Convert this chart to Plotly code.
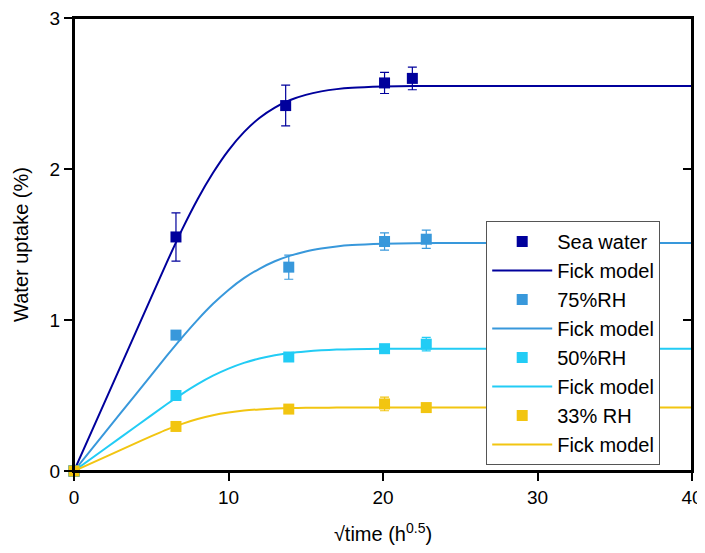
import plotly.graph_objects as go

# ---- measured data (x = sqrt(time) in h^0.5, y = water uptake %) ----
sea_x = [0, 6.6, 13.7, 20.1, 21.9]
sea_y = [0, 1.55, 2.42, 2.57, 2.60]
sea_err = [0, 0.16, 0.135, 0.07, 0.075]

rh75_x = [0, 6.6, 13.9, 20.1, 22.8]
rh75_y = [0, 0.90, 1.35, 1.52, 1.535]
rh75_err = [0, 0.015, 0.08, 0.057, 0.06]

rh50_x = [0, 6.6, 13.9, 20.1, 22.8]
rh50_y = [0, 0.50, 0.755, 0.81, 0.84]
rh50_err = [0, 0.01, 0.01, 0.015, 0.045]

rh33_x = [0, 6.6, 13.9, 20.1, 22.8]
rh33_y = [0, 0.295, 0.41, 0.444, 0.42]
rh33_err = [0, 0.01, 0.01, 0.045, 0.01]

# ---- Fick model curves ----
fit_x = [0, 2, 4, 6, 7, 8, 9, 10, 11, 12, 13, 14, 15, 16, 17, 18, 20, 22, 25, 30, 35, 40]
sea_fit = [0, 0.46, 0.92, 1.38, 1.60, 1.80, 1.975, 2.124, 2.244, 2.338, 2.407, 2.457,
           2.491, 2.514, 2.529, 2.538, 2.546, 2.55, 2.55, 2.55, 2.55, 2.55]
rh75_fit = [0, 0.254, 0.508, 0.762, 0.885, 1.001, 1.107, 1.199, 1.277, 1.339, 1.389, 1.426,
            1.454, 1.473, 1.487, 1.496, 1.505, 1.509, 1.51, 1.51, 1.51, 1.51]
rh50_fit = [0, 0.147, 0.295, 0.442, 0.511, 0.575, 0.631, 0.678, 0.716, 0.745, 0.766, 0.782,
            0.792, 0.799, 0.804, 0.806, 0.809, 0.81, 0.81, 0.81, 0.81, 0.81]
rh33_fit = [0, 0.092, 0.185, 0.274, 0.312, 0.344, 0.369, 0.387, 0.400, 0.408, 0.4135, 0.4166,
            0.4183, 0.419, 0.42, 0.42, 0.42, 0.42, 0.42, 0.42, 0.42, 0.42]

names = ["Sea water", "75%RH", "50%RH", "33% RH"]
colors = ["#00009C", "#3898DB", "#22CCF5", "#F2C511"]
points = [(sea_x, sea_y, sea_err), (rh75_x, rh75_y, rh75_err),
          (rh50_x, rh50_y, rh50_err), (rh33_x, rh33_y, rh33_err)]
fits = [sea_fit, rh75_fit, rh50_fit, rh33_fit]

fig = go.Figure()
for name, col, (px, py, pe), fy in zip(names, colors, points, fits):
    fig.add_trace(go.Scatter(
        x=px, y=py, mode="markers", name=name,
        marker=dict(symbol="square", size=11, color=col),
        error_y=dict(type="data", array=pe, color=col, thickness=1.2, width=4.5),
        cliponaxis=False))
    fig.add_trace(go.Scatter(
        x=fit_x, y=fy, mode="lines", name="Fick model",
        line=dict(color=col, width=2, shape="spline", smoothing=0.6)))

# invisible trace to host the right-hand mirrored axis with inward ticks
fig.add_trace(go.Scatter(x=[0], y=[0], yaxis="y2", mode="markers",
                         marker=dict(opacity=0), showlegend=False, hoverinfo="skip"))

font = "Liberation Sans, Arial, sans-serif"
# the page body adds an 8px offset; figure sized so the page does not overflow vertically
fig.update_layout(
    width=697, height=537,
    margin=dict(l=66, r=13, t=10, b=74),
    paper_bgcolor="white", plot_bgcolor="white",
    font=dict(family=font, color="black"),
    showlegend=True,
    legend=dict(x=0.667, y=0.552, xanchor="left", yanchor="top",
                bgcolor="white", bordercolor="#555555", borderwidth=1,
                font=dict(size=20, family=font), itemwidth=60,
                tracegroupgap=0),
    xaxis=dict(range=[0, 40], tickvals=[0, 10, 20, 30, 40], showgrid=False, zeroline=False,
               showline=True, linecolor="black", linewidth=2, mirror=True,
               ticks="outside", ticklen=8, tickwidth=1.5, tickcolor="black",
               tickfont=dict(size=19), automargin=False, ticklabeloverflow="allow",
               title=dict(text="√time (h<sup>0.5</sup>)", font=dict(size=20), standoff=22)),
    yaxis=dict(range=[0, 3], tickvals=[0, 1, 2, 3], showgrid=False, zeroline=False,
               showline=True, linecolor="black", linewidth=2, mirror=True,
               ticks="outside", ticklen=8, tickwidth=1.5, tickcolor="black",
               tickfont=dict(size=19), automargin=False, ticklabeloverflow="allow",
               title=dict(text="Water uptake (%)", font=dict(size=20), standoff=16)),
    yaxis2=dict(range=[0, 3], tickvals=[0, 1, 2, 3], overlaying="y", side="right",
                showgrid=False, zeroline=False, showline=False, showticklabels=False,
                ticks="inside", ticklen=9, tickwidth=1.5, tickcolor="black",
                automargin=False),
    shapes=[dict(type="rect", xref="paper", yref="paper", x0=0, x1=1, y0=0, y1=1,
                 line=dict(color="black", width=2), layer="above")],
)

fig.write_html("out.html")
